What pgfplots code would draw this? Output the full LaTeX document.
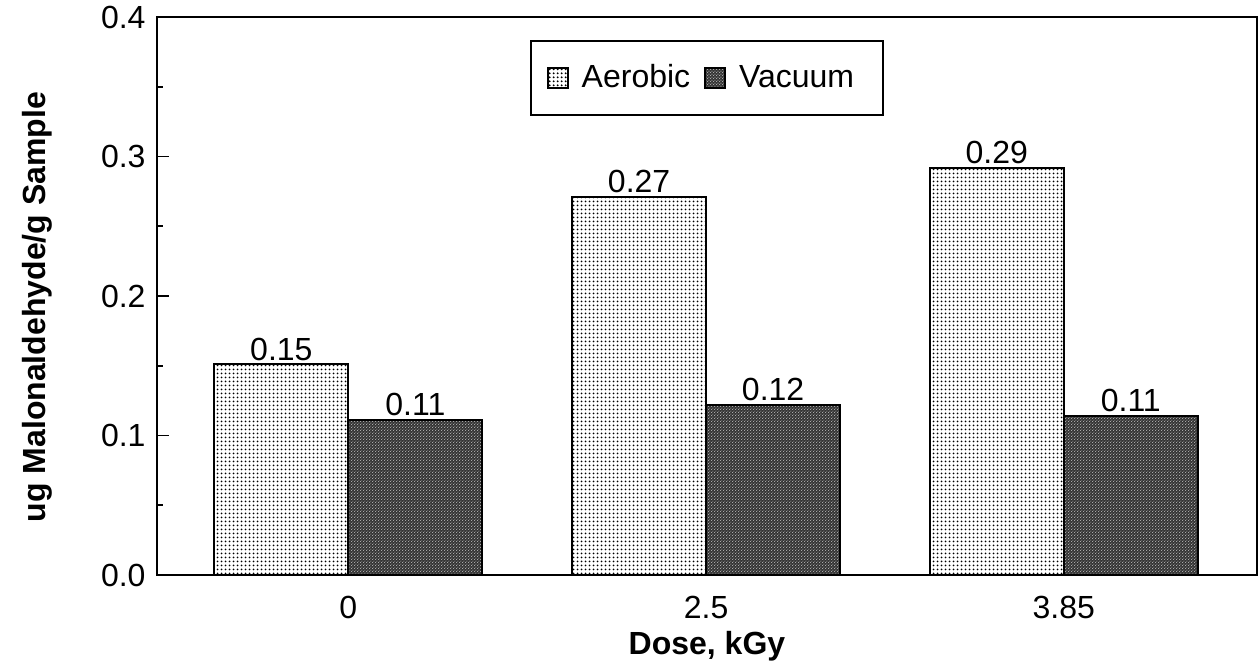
\documentclass[border=0pt]{standalone}
\usepackage{fontspec}
\setmainfont{Liberation Sans}
\usepackage{pgfplots}
\pgfplotsset{compat=1.18}
\usetikzlibrary{patterns.meta}

\pgfdeclarepattern{
  name=aerodots, type=uncolored,
  bottom left={\pgfpoint{0pt}{0pt}}, top right={\pgfpoint{2pt}{2pt}},
  tile size={\pgfpoint{2pt}{2pt}},
  code={\pgfpathcircle{\pgfpoint{1pt}{1pt}}{0.6pt}\pgfusepath{fill}}
}
\pgfdeclarepattern{
  name=vacdots, type=uncolored,
  bottom left={\pgfpoint{0pt}{0pt}}, top right={\pgfpoint{1.6pt}{1.6pt}},
  tile size={\pgfpoint{1.6pt}{1.6pt}},
  code={\pgfpathcircle{\pgfpoint{0.4pt}{0.4pt}}{0.3pt}\pgfpathcircle{\pgfpoint{1.2pt}{1.2pt}}{0.3pt}\pgfusepath{fill}}
}

\begin{document}
\begin{tikzpicture}
\begin{axis}[name=ax,
  scale only axis, width=550pt, height=279pt,
  xmin=-0.535, xmax=2.54, ymin=0, ymax=0.4,
  ybar=0pt, bar width=67pt,
  xtick={0,1,2}, xticklabels={0,2.5,3.85},
  ytick={0,0.1,0.2,0.3,0.4}, yticklabels={0.0,0.1,0.2,0.3,0.4},
  minor ytick={0.05,0.15,0.25,0.35},
  ytick pos=left, xtick pos=bottom,
  tick align=inside,
  major tick length=6pt, minor tick length=3pt,
  x tick style={draw=none},
  y tick style={line width=0.8pt, black},
  axis line style={line width=1.2pt},
  font=\fontsize{16}{19}\selectfont,
  xticklabel style={anchor=base, yshift=-22pt},
  yticklabel style={xshift=-2.2pt},
  xlabel={\bfseries Dose, kGy},
  ylabel={\bfseries ug Malonaldehyde/g Sample},
  xlabel style={at={(axis description cs:0.5,0)}, anchor=base, yshift=-40pt},
  ylabel style={at={(axis description cs:-0.1018,0.48)}, anchor=base},
  point meta=explicit symbolic,
  nodes near coords,
  nodes near coords style={font=\fontsize{16}{19}\selectfont, anchor=south, inner sep=1.5pt},
  legend style={at={(0.5,0.9588)}, anchor=north, draw=black, line width=0.8pt,
    inner xsep=8pt, inner ysep=10pt,
    font=\fontsize{16}{19}\selectfont,
    /tikz/every even column/.append style={column sep=0.5pt},
    nodes={inner xsep=6.5pt}},
  legend columns=2,
  legend image code/.code={\draw[#1] (0pt,-5pt) rectangle (10pt,5pt);},
]
\addplot[draw=black, line width=0.9pt, preaction={fill=white}, pattern=aerodots, pattern color=black]
  coordinates {(0,0.151)[0.15] (1,0.271)[0.27] (2,0.292)[0.29]};
\addplot[draw=black, line width=0.9pt, preaction={fill=black!80}, pattern=vacdots, pattern color=white]
  coordinates {(0,0.111)[0.11] (1,0.122)[0.12] (2,0.114)[0.11]};
\legend{Aerobic, Vacuum}
\end{axis}
\path (ax.south west) ++(-78.5pt,-46pt) coordinate (bl);
\path (ax.north east) ++(1.5pt,8.5pt) coordinate (tr);
\pgfresetboundingbox
\useasboundingbox (bl) rectangle (tr);
\end{tikzpicture}
\end{document}
